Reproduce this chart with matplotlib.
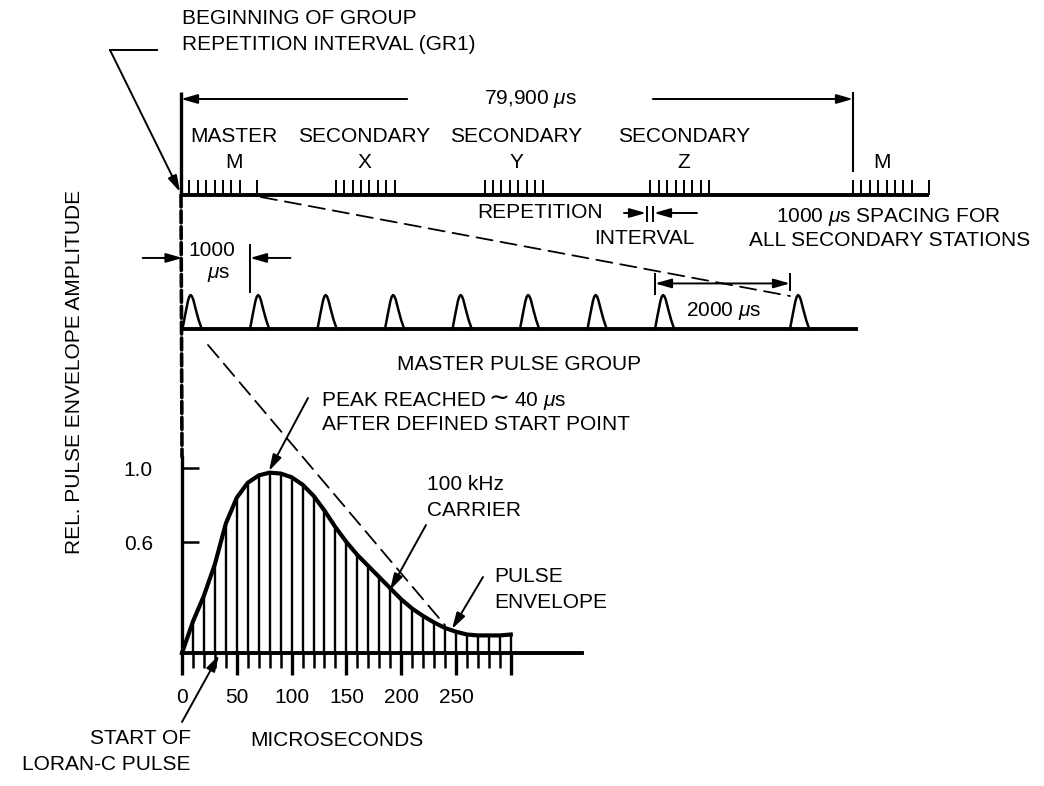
import numpy as np
import matplotlib.pyplot as plt
from matplotlib.patches import ConnectionPatch

plt.rcParams['font.family'] = ['Liberation Sans', 'DejaVu Sans']
plt.rcParams['mathtext.fontset'] = 'custom'
plt.rcParams['mathtext.rm'] = 'Liberation Sans'
plt.rcParams['mathtext.it'] = 'Liberation Sans:italic'

W, H = 1044, 786
FS = 15
MU = r'$\mu$s'

# group repetition interval and pulse timing (microseconds)
gri_us = 79900
master_offsets = [0, 1000, 2000, 3000, 4000, 5000, 6000, 7000, 9000]
secondary_offsets = [0, 1000, 2000, 3000, 4000, 5000, 6000, 7000]
station_ids = ['M', 'X', 'Y', 'Z', 'M']
station_starts = [0, 18400, 36100, 55800, 79900]

# small pulse shape used in the master pulse group row
mini_t = [0, 40, 80, 100, 120, 140, 160, 200, 240, 285]
mini_amp = [0, 0.42, 0.82, 0.95, 1.0, 0.96, 0.86, 0.55, 0.26, 0]

# single Loran-C pulse envelope, sampled every 10 us (one carrier cycle)
env_t = list(range(0, 301, 10))
env_amp = [0.0, 0.17, 0.31, 0.48, 0.70, 0.84, 0.92, 0.96, 0.975, 0.97,
           0.95, 0.91, 0.85, 0.77, 0.68, 0.60, 0.53, 0.47, 0.41, 0.35,
           0.29, 0.24, 0.20, 0.165, 0.135, 0.115, 0.10, 0.095, 0.095, 0.095, 0.10]

x_major = [0, 50, 100, 150, 200, 250, 300]
x_major_labels = ['0', '50', '100', '150', '200', '250', '']
y_ticks = [0.6, 1.0]
y_tick_labels = ['0.6', '1.0']


fig = plt.figure(figsize=(W / 100, H / 100), dpi=100)


def make_axes(box, origin, scale):
    # box in pixels (left, top, right, bottom); origin = pixel of data (0, 0)
    left, top, right, bottom = box
    ox, oy = origin
    sx, sy = scale
    ax = fig.add_axes([left / W, 1 - bottom / H, (right - left) / W, (bottom - top) / H])
    ax.set_xlim((left - ox) / sx, (right - ox) / sx)
    ax.set_ylim((oy - bottom) / sy, (oy - top) / sy)
    ax.patch.set_visible(False)
    return ax


arrow = dict(arrowstyle='-|>,head_length=0.7,head_width=0.2', color='k', lw=1.4,
             mutation_scale=14, shrinkA=0, shrinkB=0)

# ---- top row: group repetition interval ----
ax_gri = make_axes((150, 80, 960, 205), (181, 195), (672 / gri_us, 1))
ax_gri.axis('off')
ax_gri.plot([0, gri_us + master_offsets[-1]], [0, 0], color='k', lw=2.8, solid_capstyle='butt')
for sid, start in zip(station_ids, station_starts):
    offs = master_offsets if sid == 'M' else secondary_offsets
    ax_gri.vlines([start + o for o in offs], 0, 15, color='k', lw=1.4)
ax_gri.vlines(0, 0, 103, color='k', lw=2.4)
ax_gri.vlines(gri_us, 23, 103, color='k', lw=1.5)
ax_gri.annotate('', xy=(0, 96), xytext=(26900, 96), arrowprops=arrow)
ax_gri.annotate('', xy=(gri_us, 96), xytext=(56100, 96), arrowprops=arrow)
ax_gri.text(41500, 96, f'{gri_us:,} ' + MU, ha='center', va='center', fontsize=FS)

# ---- middle row: master pulse group ----
ax_grp = make_axes((130, 235, 880, 350), (182.5, 329), (0.0675, 34))
ax_grp.axis('off')
ax_grp.plot([0, master_offsets[-1] + 1000], [0, 0], color='k', lw=2.8, solid_capstyle='butt')
for o in master_offsets:
    ax_grp.plot([t + o for t in mini_t], mini_amp, color='k', lw=1.8)
# 1000 us bracket
ax_grp.annotate('', xy=(0, 2.09), xytext=(-590, 2.09), arrowprops=arrow)
ax_grp.vlines(1000, 1.06, 2.5, color='k', lw=1.4)
ax_grp.annotate('', xy=(1000, 2.09), xytext=(1600, 2.09), arrowprops=arrow)
ax_grp.text(440, 2.32, '1000', ha='center', va='center', fontsize=FS)
ax_grp.text(530, 1.59, MU, ha='center', va='center', fontsize=FS)
# 2000 us bracket
ax_grp.vlines(7000, 1.0, 1.65, color='k', lw=1.4)
ax_grp.vlines(9000, 1.12, 1.65, color='k', lw=1.4)
ax_grp.annotate('', xy=(7000, 1.34), xytext=(8000, 1.34), arrowprops=arrow)
ax_grp.annotate('', xy=(9000, 1.34), xytext=(8000, 1.34), arrowprops=arrow)
ax_grp.text(8020, 0.53, '2000 ' + MU, ha='center', va='center', fontsize=FS)

# ---- bottom: single pulse ----
ax_p = make_axes((140, 440, 620, 700), (182, 653), (1.096, 185))
for s in ['top', 'right']:
    ax_p.spines[s].set_visible(False)
ax_p.spines['left'].set_position(('data', 0))
ax_p.spines['bottom'].set_position(('data', 0))
ax_p.spines['left'].set_bounds(0, 1.06)
ax_p.spines['bottom'].set_bounds(0, 365)
ax_p.spines['left'].set_linewidth(2.4)
ax_p.spines['bottom'].set_linewidth(2.8)
ax_p.vlines(env_t, 0, env_amp, color='k', lw=1.7)
ax_p.plot(env_t, env_amp, color='k', lw=3.0)
ax_p.set_xticks(x_major)
ax_p.set_xticklabels(x_major_labels)
ax_p.set_xticks(list(range(0, 301, 10)), minor=True)
ax_p.tick_params(axis='x', which='major', direction='out', length=16, width=2.4, pad=9, labelsize=FS)
ax_p.tick_params(axis='x', which='minor', direction='out', length=11, width=1.8)
ax_p.set_yticks(y_ticks)
ax_p.set_yticklabels(y_tick_labels)
ax_p.tick_params(axis='y', direction='in', length=12, width=1.8, pad=21, labelsize=FS)

# ---- dashed connectors ----
connectors = [
    ((0, 0), ax_gri, (0, 1.06), ax_p, 2.6, (0, (3.3, 1.1))),
    ((9500, -2), ax_gri, (9000, 0.97), ax_grp, 1.3, (0, (9, 4.5))),
    ((378, -0.47), ax_grp, (240, 0.15), ax_p, 1.3, (0, (9, 4.5))),
]
for xa, axa, xb, axb, lw, ls in connectors:
    con = ConnectionPatch(xyA=xa, coordsA=axa.transData, xyB=xb, coordsB=axb.transData,
                          color='k', lw=lw, linestyle=ls)
    fig.add_artist(con)

# ---- overlay for labels and callouts (pixel coordinates) ----
ov = fig.add_axes([0, 0, 1, 1])
ov.set_xlim(0, W)
ov.set_ylim(H, 0)
ov.axis('off')
ov.patch.set_visible(False)


def txt(x, y, s, ha='left', **kw):
    ov.text(x, y, s, ha=ha, va='center', fontsize=FS, **kw)


txt(182, 18, 'BEGINNING OF GROUP')
txt(182, 44, 'REPETITION INTERVAL (GR1)')
ov.plot([157, 110], [50, 50], color='k', lw=1.4)
ov.annotate('', xy=(180, 192), xytext=(110, 50), arrowprops=arrow)

station_names = ['MASTER', 'SECONDARY', 'SECONDARY', 'SECONDARY', '']
label_x = [234, 364, 516, 684, 882]
for name, sid, x in zip(station_names, station_ids, label_x):
    if name:
        txt(x, 137, name, ha='center')
    txt(x, 162, sid, ha='center')

txt(603, 213, 'REPETITION', ha='right')
ov.annotate('', xy=(646, 213), xytext=(624, 213), arrowprops=arrow)
ov.vlines([647, 653], 206, 222, color='k', lw=1.4)
ov.annotate('', xy=(654, 213), xytext=(697, 213), arrowprops=arrow)
txt(644, 238, 'INTERVAL', ha='center')
txt(888, 217, '1000 ' + MU + ' SPACING FOR', ha='center')
txt(890, 241, 'ALL SECONDARY STATIONS', ha='center')

txt(519, 365, 'MASTER PULSE GROUP', ha='center')
txt(322, 401, 'PEAK REACHED')
ov.text(499, 399, '\u223c', ha='center', va='center', fontsize=FS + 3, family='DejaVu Sans')
txt(514, 401, '40 ' + MU)
txt(322, 425, 'AFTER DEFINED START POINT')
ov.annotate('', xy=(269, 471), xytext=(308, 398), arrowprops=arrow)
txt(427, 485, '100 kHz')
txt(427, 510, 'CARRIER')
ov.annotate('', xy=(390, 590), xytext=(426, 525), arrowprops=arrow)
txt(494, 577, 'PULSE')
txt(494, 602, 'ENVELOPE')
ov.annotate('', xy=(452, 629), xytext=(483, 577), arrowprops=arrow)

txt(191, 738, 'START OF', ha='right')
txt(191, 765, 'LORAN-C PULSE', ha='right')
ov.annotate('', xy=(219, 655), xytext=(182, 722), arrowprops=arrow)
txt(337, 741, 'MICROSECONDS', ha='center')

ov.text(75, 372, 'REL. PULSE ENVELOPE AMPLITUDE', rotation=90, ha='center', va='center', fontsize=FS)

fig.savefig('out.png', dpi=100, facecolor='white')
